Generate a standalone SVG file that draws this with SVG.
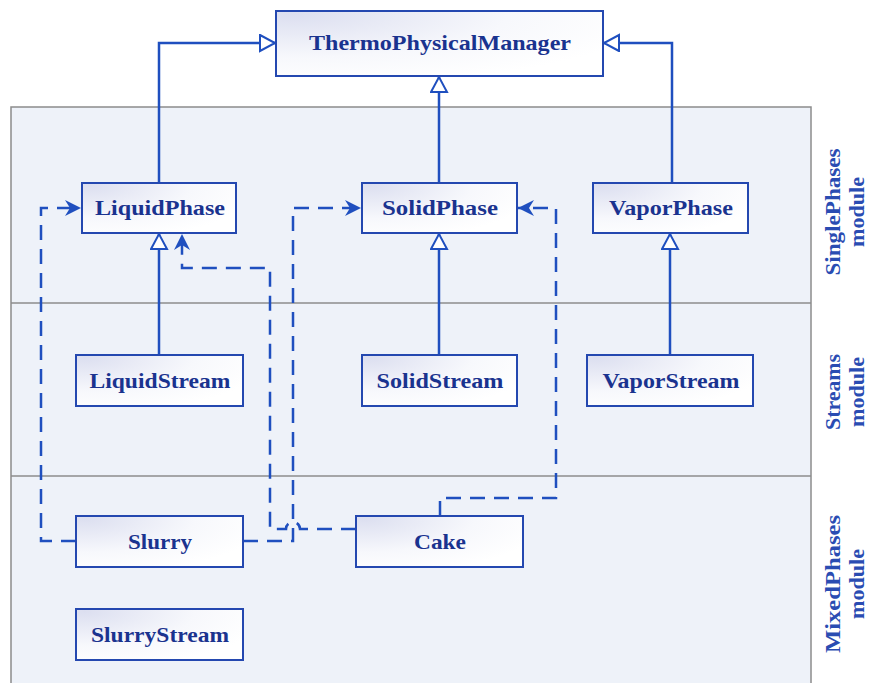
<svg xmlns="http://www.w3.org/2000/svg" width="873" height="683" viewBox="0 0 873 683">
<defs>
<radialGradient id="boxfill" cx="0.05" cy="0.05" r="1.1">
<stop offset="0" stop-color="#dcdff0"/>
<stop offset="0.6" stop-color="#f7f8fc"/>
<stop offset="1" stop-color="#ffffff"/>
</radialGradient>
<marker id="hollow" markerUnits="userSpaceOnUse" markerWidth="20" markerHeight="20" refX="16" refY="9" orient="auto" viewBox="0 0 20 20">
<path d="M1,1 L16,9 L1,17 Z" fill="#ffffff" stroke="#1f4fbf" stroke-width="2"/>
</marker>
<marker id="filled" markerUnits="userSpaceOnUse" markerWidth="18" markerHeight="18" refX="16" refY="9" orient="auto" viewBox="0 0 18 18">
<path d="M0,1 L16,9 L0,17 L5,9 Z" fill="#1f4fbf"/>
</marker>
<style>
.box{fill:url(#boxfill);stroke:#2448b0;stroke-width:2}
.lbl{font-family:"Liberation Serif","Times New Roman",serif;font-weight:bold;font-size:21px;fill:#1a338f;text-anchor:middle}
.side{font-family:"Liberation Serif","Times New Roman",serif;font-weight:bold;font-size:20px;fill:#2a4cb2;text-anchor:middle}
.solid{fill:none;stroke:#1f4fbf;stroke-width:2.5}
.dash{fill:none;stroke:#1f4fbf;stroke-width:2.5;stroke-dasharray:15 9}
</style>
</defs>
<rect width="873" height="683" fill="#ffffff"/>
<g id="panel">
<rect x="11" y="107" width="800" height="590" fill="#eef2f9" stroke="#8c8c8c" stroke-width="1.5"/>
<line x1="11" y1="303" x2="811" y2="303" stroke="#8c8c8c" stroke-width="1.5"/>
<line x1="11" y1="476" x2="811" y2="476" stroke="#8c8c8c" stroke-width="1.5"/>
</g>
<g id="modules">
<text class="side" transform="translate(840,212) rotate(-90)" textLength="127" lengthAdjust="spacingAndGlyphs">SinglePhases</text>
<text class="side" transform="translate(864,212) rotate(-90)" textLength="70" lengthAdjust="spacingAndGlyphs">module</text>
<text class="side" transform="translate(840,392) rotate(-90)" textLength="76" lengthAdjust="spacingAndGlyphs">Streams</text>
<text class="side" transform="translate(864,392) rotate(-90)" textLength="70" lengthAdjust="spacingAndGlyphs">module</text>
<text class="side" transform="translate(840,584) rotate(-90)" textLength="138" lengthAdjust="spacingAndGlyphs">MixedPhases</text>
<text class="side" transform="translate(864,584) rotate(-90)" textLength="70" lengthAdjust="spacingAndGlyphs">module</text>
</g>
<g id="connectors">
<path class="solid" d="M159,183 V43 H275" marker-end="url(#hollow)"/>
<path class="solid" d="M672,183 V43 H604" marker-end="url(#hollow)"/>
<path class="solid" d="M439,183 V77" marker-end="url(#hollow)"/>
<path class="solid" d="M159,355 V234" marker-end="url(#hollow)"/>
<path class="solid" d="M439,355 V234" marker-end="url(#hollow)"/>
<path class="solid" d="M670,355 V234" marker-end="url(#hollow)"/>
<path class="dash" d="M76,541 H41 V208 H81" marker-end="url(#filled)"/>
<path class="dash" d="M243,541 H293 V208 H361" marker-end="url(#filled)"/>
<path class="dash" d="M356,529 H300 A7,7 0 0 0 286,529 H270 V268 H182 V234" marker-end="url(#filled)"/>
<path class="dash" d="M440,516 V498 H556 V208 H518" marker-end="url(#filled)"/>
</g>
<g id="ThermoPhysicalManager"><rect class="box" x="276" y="11" width="327" height="65"/><text class="lbl" x="440" y="50" textLength="262" lengthAdjust="spacingAndGlyphs">ThermoPhysicalManager</text></g>
<g id="LiquidPhase"><rect class="box" x="82" y="183" width="154" height="50"/><text class="lbl" x="160" y="215" textLength="130" lengthAdjust="spacingAndGlyphs">LiquidPhase</text></g>
<g id="SolidPhase"><rect class="box" x="362" y="183" width="155" height="50"/><text class="lbl" x="440" y="215" textLength="116" lengthAdjust="spacingAndGlyphs">SolidPhase</text></g>
<g id="VaporPhase"><rect class="box" x="593" y="183" width="155" height="50"/><text class="lbl" x="671" y="215" textLength="124" lengthAdjust="spacingAndGlyphs">VaporPhase</text></g>
<g id="LiquidStream"><rect class="box" x="76" y="355" width="167" height="51"/><text class="lbl" x="160" y="388" textLength="141" lengthAdjust="spacingAndGlyphs">LiquidStream</text></g>
<g id="SolidStream"><rect class="box" x="362" y="355" width="155" height="51"/><text class="lbl" x="440" y="388" textLength="127" lengthAdjust="spacingAndGlyphs">SolidStream</text></g>
<g id="VaporStream"><rect class="box" x="587" y="355" width="166" height="51"/><text class="lbl" x="671" y="388" textLength="137" lengthAdjust="spacingAndGlyphs">VaporStream</text></g>
<g id="Slurry"><rect class="box" x="76" y="516" width="167" height="51"/><text class="lbl" x="160" y="549" textLength="64" lengthAdjust="spacingAndGlyphs">Slurry</text></g>
<g id="Cake"><rect class="box" x="356" y="516" width="167" height="51"/><text class="lbl" x="440" y="549" textLength="52" lengthAdjust="spacingAndGlyphs">Cake</text></g>
<g id="SlurryStream"><rect class="box" x="76" y="609" width="167" height="51"/><text class="lbl" x="160" y="642" textLength="138" lengthAdjust="spacingAndGlyphs">SlurryStream</text></g>
</svg>
